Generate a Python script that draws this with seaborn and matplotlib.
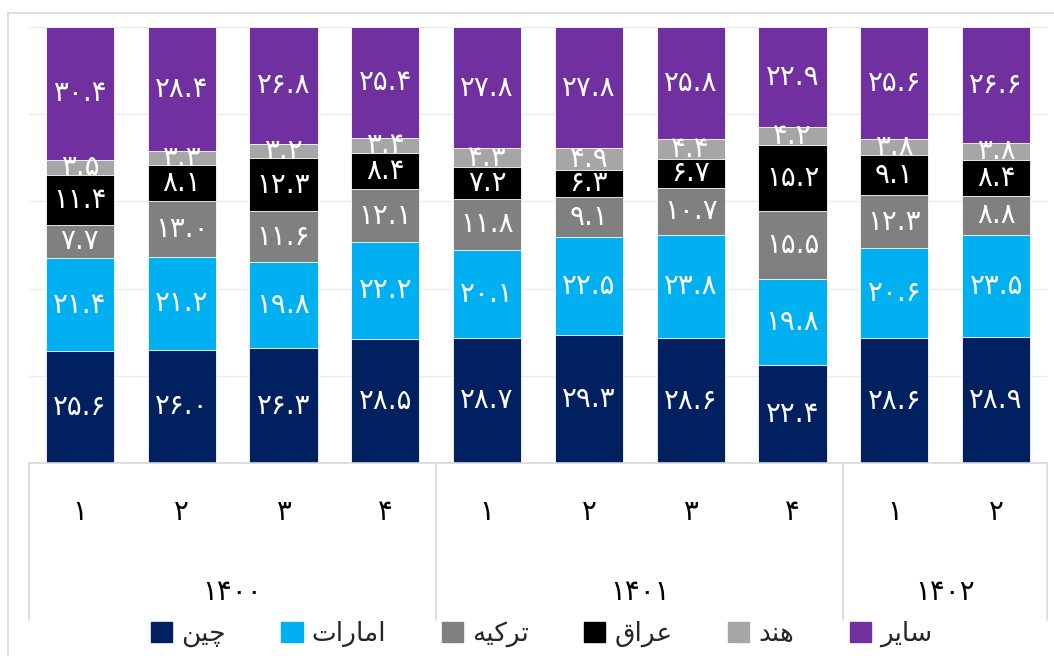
import numpy as np
import pandas as pd
import matplotlib
matplotlib.use("Agg")
import matplotlib.pyplot as plt
import seaborn as sns
from matplotlib.lines import Line2D
from matplotlib.patches import Patch

# ---------------- data ----------------
years = ["1400", "1400", "1400", "1400", "1401", "1401", "1401", "1401", "1402", "1402"]
quarters = ["1", "2", "3", "4", "1", "2", "3", "4", "1", "2"]
year_groups = ["1400", "1401", "1402"]

china = [25.6, 26.0, 26.3, 28.5, 28.7, 29.3, 28.6, 22.4, 28.6, 28.9]
uae = [21.4, 21.2, 19.8, 22.2, 20.1, 22.5, 23.8, 19.8, 20.6, 23.5]
turkey = [7.7, 13.0, 11.6, 12.1, 11.8, 9.1, 10.7, 15.5, 12.3, 8.8]
iraq = [11.4, 8.1, 12.3, 8.4, 7.2, 6.3, 6.7, 15.2, 9.1, 8.4]
india = [3.5, 3.3, 3.2, 3.4, 4.3, 4.9, 4.4, 4.2, 3.8, 3.8]
other = [30.4, 28.4, 26.8, 25.4, 27.8, 27.8, 25.8, 22.9, 25.6, 26.6]

# Series names (Persian, in shaped presentation forms so they render joined, right-to-left)
names_logical = ["چین", "امارات", "ترکیه", "عراق", "هند", "سایر"]
names_display = [
    "\uFEE6\uFBFF\uFB7C",                    # چین
    "\uFE95\uFE8D\uFEAD\uFE8E\uFEE3\uFE8D",  # امارات
    "\uFEEA\uFBFF\uFB90\uFEAE\uFE97",        # ترکیه
    "\uFED5\uFE8D\uFEAE\uFECB",              # عراق
    "\uFEAA\uFEE8\uFEEB",                    # هند
    "\uFEAE\uFBFE\uFE8E\uFEB3",              # سایر
]
colors = ["#002060", "#00B0F0", "#808080", "#000000", "#A6A6A6", "#7030A0"]

series = [china, uae, turkey, iraq, india, other]

PERSIAN = str.maketrans("0123456789", "۰۱۲۳۴۵۶۷۸۹")


def fa(s):
    return s.translate(PERSIAN)


# ---------------- figure ----------------
sns.set_theme(style="white")
plt.rcParams["font.family"] = ["DejaVu Sans"]

fig = plt.figure(figsize=(10.54, 6.56), dpi=100)
ax = fig.add_axes([29 / 1054, 1 - 463 / 656, (1047 - 29) / 1054, (463 - 27) / 656])

bars = [f"{y}-{q}" for y, q in zip(years, quarters)]
vals = np.array(series, dtype=float)
totals = vals.sum(axis=0)
shares = vals / totals * 100
cum = np.cumsum(shares, axis=0)

# draw cumulative bars from the top series down so they stack visually
for i in range(len(series) - 1, -1, -1):
    df = pd.DataFrame({"bar": bars, "cum": cum[i]})
    sns.barplot(data=df, x="bar", y="cum", order=bars, color=colors[i],
                saturation=1, width=0.67, edgecolor="white", linewidth=0.6,
                ax=ax, zorder=2)

# segment labels
for i in range(len(series)):
    for j in range(len(bars)):
        yc = cum[i, j] - shares[i, j] / 2
        ax.text(j, yc, fa(f"{vals[i, j]:.1f}"), ha="center", va="center",
                color="white", fontsize=20, zorder=5)

ax.set_ylim(0, 100)
ax.set_xlim(-0.5, len(bars) - 0.5)
ax.set_yticks([0, 20, 40, 60, 80, 100])
ax.set_yticklabels([])
ax.tick_params(left=False, bottom=False)
ax.set_xticks([])
ax.set_xlabel("")
ax.set_ylabel("")
ax.yaxis.grid(True, color="#EBEBEB", linewidth=1)
ax.set_axisbelow(True)
for s in ["left", "right", "top"]:
    ax.spines[s].set_visible(False)
ax.spines["bottom"].set_color("#D9D9D9")
ax.spines["bottom"].set_linewidth(1.2)

# category axis: quarters and year groups
trans = ax.get_xaxis_transform()
for j, q in enumerate(quarters):
    ax.text(j, -0.113, fa(q), transform=trans, ha="center", va="center",
            fontsize=20, color="black")

bounds = [-0.5]
centers = []
start = 0
for g in year_groups:
    n = years.count(g)
    centers.append(start + (n - 1) / 2)
    start += n
    bounds.append(start - 0.5)
for c, g in zip(centers, year_groups):
    ax.text(c, -0.296, fa(g), transform=trans, ha="center", va="center",
            fontsize=20, color="black")
for b in bounds:
    ax.plot([b, b], [0, -0.36], transform=trans, color="#D9D9D9",
            linewidth=1.2, clip_on=False)

# legend
handles = [Patch(facecolor=c, edgecolor=c) for c in colors]
fig.legend(handles, names_display, loc="center", bbox_to_anchor=(0.514, 0.033),
           ncol=6, frameon=False, fontsize=19, handlelength=0.8,
           handleheight=0.8, handletextpad=0.35, columnspacing=2.1,
           borderpad=0.0)

# outer chart border
fig.add_artist(Line2D([8 / 1054, 1.0], [1 - 13 / 656, 1 - 13 / 656],
                      color="#D9D9D9", linewidth=1.2))
fig.add_artist(Line2D([8 / 1054, 8 / 1054], [0.0, 1 - 13 / 656],
                      color="#D9D9D9", linewidth=1.2))

fig.savefig("out.png", dpi=100)
